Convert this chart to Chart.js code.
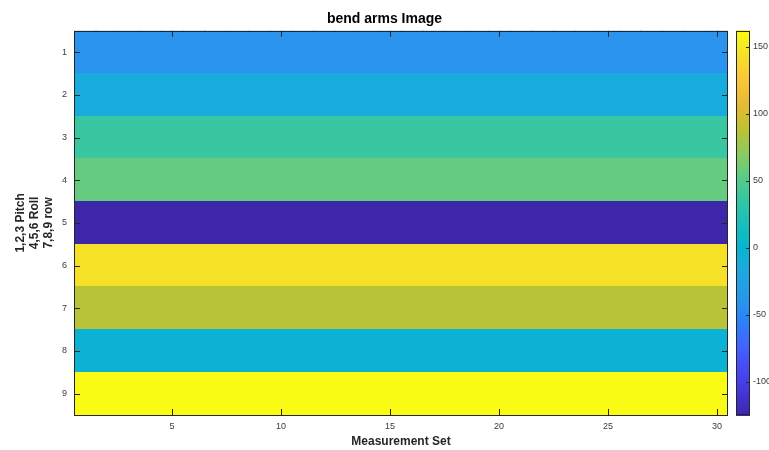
<!DOCTYPE html>
<html>
<head>
<meta charset="utf-8">
<script src="https://cdn.jsdelivr.net/npm/chart.js@4.4.1/dist/chart.umd.min.js"></script>
<style>
  html, body { margin: 0; padding: 0; background: #ffffff; }
  #wrap { position: relative; width: 769px; height: 450px; }
</style>
</head>
<body>
<div id="wrap"><canvas id="c" width="769" height="450"></canvas></div>
<script>
// ---- Data ----
const chartTitle = 'bend arms Image';
const xAxisTitle = 'Measurement Set';
const yAxisTitle = ['1,2,3 Pitch', '4,5,6 Roll', '7,8,9 row'];
const measurementSets = [1,2,3,4,5,6,7,8,9,10,11,12,13,14,15,16,17,18,19,20,21,22,23,24,25,26,27,28,29,30];
const rowIndex = [1,2,3,4,5,6,7,8,9];
const row1 = [-40,-40,-40,-40,-40,-40,-40,-40,-40,-40,-40,-40,-40,-40,-40,-40,-40,-40,-40,-40,-40,-40,-40,-40,-40,-40,-40,-40,-40,-40];
const row2 = [-12,-12,-12,-12,-12,-12,-12,-12,-12,-12,-12,-12,-12,-12,-12,-12,-12,-12,-12,-12,-12,-12,-12,-12,-12,-12,-12,-12,-12,-12];
const row3 = [38,38,38,38,38,38,38,38,38,38,38,38,38,38,38,38,38,38,38,38,38,38,38,38,38,38,38,38,38,38];
const row4 = [57,57,57,57,57,57,57,57,57,57,57,57,57,57,57,57,57,57,57,57,57,57,57,57,57,57,57,57,57,57];
const row5 = [-125,-125,-125,-125,-125,-125,-125,-125,-125,-125,-125,-125,-125,-125,-125,-125,-125,-125,-125,-125,-125,-125,-125,-125,-125,-125,-125,-125,-125,-125];
const row6 = [145,145,145,145,145,145,145,145,145,145,145,145,145,145,145,145,145,145,145,145,145,145,145,145,145,145,145,145,145,145];
const row7 = [88,88,88,88,88,88,88,88,88,88,88,88,88,88,88,88,88,88,88,88,88,88,88,88,88,88,88,88,88,88];
const row8 = [-3,-3,-3,-3,-3,-3,-3,-3,-3,-3,-3,-3,-3,-3,-3,-3,-3,-3,-3,-3,-3,-3,-3,-3,-3,-3,-3,-3,-3,-3];
const row9 = [162,162,162,162,162,162,162,162,162,162,162,162,162,162,162,162,162,162,162,162,162,162,162,162,162,162,162,162,162,162];
const rows = [row1,row2,row3,row4,row5,row6,row7,row8,row9];
const colorLimits = [-125, 162];
const xTicks = [5,10,15,20,25,30];
const yTicks = [1,2,3,4,5,6,7,8,9];
const cbTicks = [-100,-50,0,50,100,150];

// ---- parula-like colormap stops ----
const parulaStops = [
  [0.2422,0.1504,0.6603],[0.2731,0.2090,0.8600],[0.2810,0.2936,0.9596],[0.2492,0.4016,0.9942],
  [0.1690,0.5138,0.9698],[0.1554,0.5967,0.9206],[0.1195,0.6577,0.8748],[0.0264,0.7083,0.8171],
  [0.0952,0.7493,0.7363],[0.2084,0.7770,0.6401],[0.3659,0.7963,0.5272],[0.5600,0.7900,0.3600],
  [0.7500,0.7600,0.2000],[0.9000,0.7300,0.2000],[0.9880,0.7720,0.2210],[0.9591,0.8807,0.1534],
  [0.9769,0.9839,0.0805]
];
function parula(t) {
  t = Math.max(0, Math.min(1, t));
  const p = t * (parulaStops.length - 1);
  const i = Math.min(Math.floor(p), parulaStops.length - 2);
  const f = p - i;
  const a = parulaStops[i], b = parulaStops[i + 1];
  const c = [0,1,2].map(k => Math.round(255 * (a[k] + (b[k] - a[k]) * f)));
  return `rgb(${c[0]},${c[1]},${c[2]})`;
}
function colorFor(v) {
  return parula((v - colorLimits[0]) / (colorLimits[1] - colorLimits[0]));
}

const cells = [];
rows.forEach((r, ri) => r.forEach((v, ci) => cells.push({ x: measurementSets[ci], y: rowIndex[ri], v })));

const AXC = '#262626';
const TXC = '#3a3a3a';
const FONT = "'Liberation Sans', Arial, Helvetica, sans-serif";

const heatmapPlugin = {
  id: 'heatmap',
  beforeDatasetsDraw(chart) {
    const { ctx, chartArea } = chart;
    const xs = chart.scales.x, ys = chart.scales.y;
    ctx.save();
    ctx.beginPath();
    ctx.rect(chartArea.left, chartArea.top, chartArea.right - chartArea.left, chartArea.bottom - chartArea.top);
    ctx.clip();
    chart.data.datasets[0].data.forEach(d => {
      const x0 = xs.getPixelForValue(d.x - 0.5), x1 = xs.getPixelForValue(d.x + 0.5);
      const y0 = ys.getPixelForValue(d.y - 0.5), y1 = ys.getPixelForValue(d.y + 0.5);
      ctx.fillStyle = colorFor(d.v);
      ctx.fillRect(Math.floor(Math.min(x0, x1)), Math.floor(Math.min(y0, y1)),
                   Math.ceil(Math.abs(x1 - x0)) + 1, Math.ceil(Math.abs(y1 - y0)) + 1);
    });
    ctx.restore();
  },
  afterDatasetsDraw(chart) {
    const { ctx, chartArea: a } = chart;
    const xs = chart.scales.x, ys = chart.scales.y, cb = chart.scales.cb;
    ctx.save();
    ctx.strokeStyle = AXC;
    ctx.lineWidth = 1;
    const tl = 6;
    ctx.beginPath();
    xTicks.forEach(t => {
      const px = Math.round(xs.getPixelForValue(t)) + 0.5;
      ctx.moveTo(px, a.bottom); ctx.lineTo(px, a.bottom - tl);
      ctx.moveTo(px, a.top); ctx.lineTo(px, a.top + tl);
    });
    yTicks.forEach(t => {
      const py = Math.round(ys.getPixelForValue(t)) + 0.5;
      ctx.moveTo(a.left, py); ctx.lineTo(a.left + tl, py);
      ctx.moveTo(a.right, py); ctx.lineTo(a.right - tl, py);
    });
    ctx.stroke();
    ctx.strokeRect(Math.round(a.left) + 0.5, Math.round(a.top) + 0.5,
                   Math.round(a.right - a.left) - 1, Math.round(a.bottom - a.top));
    // colorbar
    const cx0 = a.right + 8, cx1 = a.right + 22;
    const n = 256;
    for (let i = 0; i < n; i++) {
      const v0 = colorLimits[0] + (colorLimits[1] - colorLimits[0]) * i / n;
      const v1 = colorLimits[0] + (colorLimits[1] - colorLimits[0]) * (i + 1) / n;
      const p0 = cb.getPixelForValue(v0), p1 = cb.getPixelForValue(v1);
      ctx.fillStyle = parula((i + 0.5) / n);
      ctx.fillRect(cx0, Math.floor(p1), cx1 - cx0, Math.ceil(p0 - p1) + 1);
    }
    ctx.strokeStyle = AXC;
    ctx.strokeRect(Math.round(cx0) + 0.5, Math.round(cb.getPixelForValue(colorLimits[1])) + 0.5,
                   cx1 - cx0 - 1, Math.round(cb.getPixelForValue(colorLimits[0]) - cb.getPixelForValue(colorLimits[1])) - 1);
    ctx.beginPath();
    cbTicks.forEach(t => {
      const py = Math.round(cb.getPixelForValue(t)) + 0.5;
      ctx.moveTo(cx1 - 4, py); ctx.lineTo(cx1, py);
    });
    ctx.stroke();
    ctx.restore();
  }
};

new Chart(document.getElementById('c'), {
  type: 'scatter',
  data: { datasets: [{ data: cells, pointRadius: 0, pointHoverRadius: 0, yAxisID: 'y', xAxisID: 'x' }] },
  options: {
    responsive: false,
    animation: false,
    events: [],
    layout: { padding: { left: 0, right: 0, top: 0, bottom: 0 } },
    plugins: {
      legend: { display: false },
      tooltip: { enabled: false },
      title: {
        display: true, text: chartTitle, color: '#000000',
        font: { family: FONT, size: 14, weight: 'bold' },
        padding: { top: 11, bottom: 3 }
      }
    },
    scales: {
      x: {
        type: 'linear', position: 'bottom', min: 0.5, max: 30.5,
        afterBuildTicks: s => { s.ticks = xTicks.map(v => ({ value: v })); },
        ticks: { color: TXC, font: { family: FONT, size: 9 }, padding: 6, maxRotation: 0 },
        grid: { display: false, drawTicks: false },
        border: { display: false },
        title: { display: true, text: xAxisTitle, color: AXC, font: { family: FONT, size: 12, weight: 'bold' }, padding: { top: 0, bottom: 1 } },
        afterFit: s => { s.height = 35; }
      },
      y: {
        type: 'linear', position: 'left', reverse: true, min: 0.5, max: 9.5,
        afterBuildTicks: s => { s.ticks = yTicks.map(v => ({ value: v })); },
        ticks: { color: TXC, font: { family: FONT, size: 9 }, padding: 7 },
        grid: { display: false, drawTicks: false },
        border: { display: false },
        title: { display: true, text: yAxisTitle, color: AXC, font: { family: FONT, size: 12, weight: 'bold', lineHeight: 1.2 }, padding: { top: 13, bottom: 0 } },
        afterFit: s => { s.width = 74; }
      },
      cb: {
        type: 'linear', position: 'right', min: colorLimits[0], max: colorLimits[1],
        afterBuildTicks: s => { s.ticks = cbTicks.map(v => ({ value: v })); },
        ticks: { color: TXC, font: { family: FONT, size: 9 }, padding: 25 },
        grid: { display: false, drawTicks: false },
        border: { display: false },
        afterFit: s => { s.width = 41; }
      }
    }
  },
  plugins: [heatmapPlugin]
});
</script>
</body>
</html>
